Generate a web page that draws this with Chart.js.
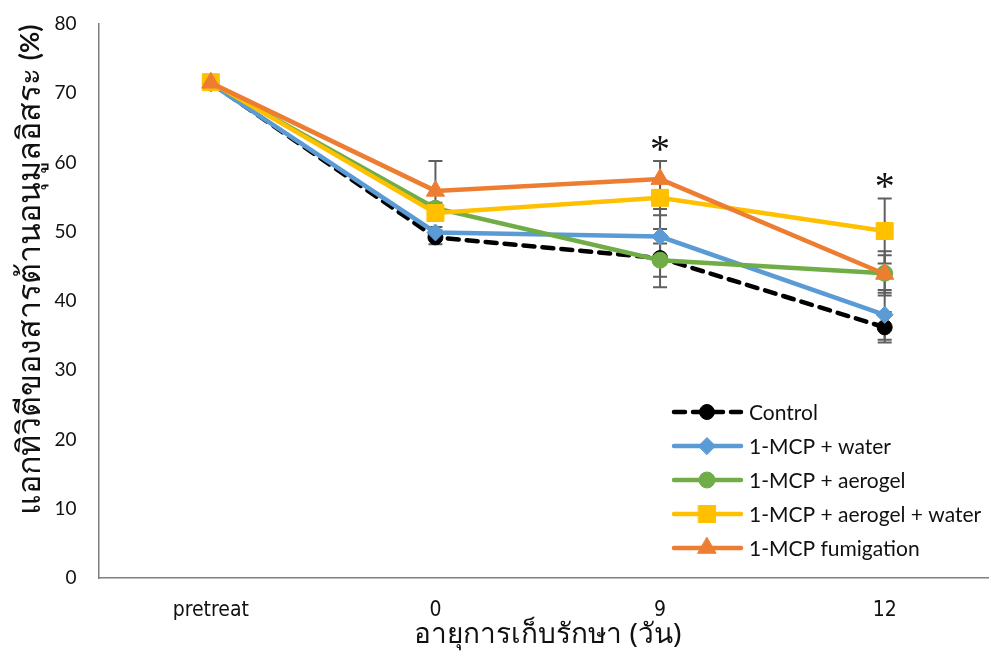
<!DOCTYPE html>
<html>
<head>
<meta charset="utf-8">
<script src="https://cdn.jsdelivr.net/npm/chart.js@4"></script>
<style>
  html, body { margin: 0; padding: 0; background: #fff; overflow: hidden; }
  #wrap { width: 1010px; height: 653px; }
</style>
</head>
<body>
<div id="wrap"><canvas id="antioxChart" width="1010" height="653"></canvas></div>
<script>
// ค่าเฉลี่ยและส่วนเบี่ยงเบนของแต่ละทรีตเมนต์
const categories = ["pretreat", "0", "9", "12"];
const controlMean = [71.5, 49.2, 46.2, 36.2];
const controlErr = [0.6, 1.0, 4.2, 2.2];
const waterMean = [71.4, 49.9, 49.3, 38.0];
const waterErr = [0.6, 0.8, 4.0, 3.6];
const aerogelMean = [71.5, 53.4, 45.9, 44.0];
const aerogelErr = [0.6, 0.8, 2.4, 3.2];
const aeroWaterMean = [71.6, 52.7, 54.9, 50.1];
const aeroWaterErr = [0.6, 0.8, 2.5, 4.7];
const fumigationMean = [71.5, 55.9, 57.6, 43.9];
const fumigationErr = [0.6, 4.3, 2.6, 2.7];
const significance = ["", "", "*", "*"];
const yTicks = [0, 10, 20, 30, 40, 50, 60, 70, 80];

const yTitle = "แอกทิวิตีของสารต้านอนุมูลอิสระ ";
const yUnit = "(%)";
const xTitle = "อายุการเก็บรักษา (วัน)";

const baseFont = "Lato, 'Open Sans', sans-serif";

// error bar ก่อนวาดเส้น
const errorBars = {
    id: "errorBars",
    beforeDatasetsDraw(chart) {
        const ctx = chart.ctx;
        const y = chart.scales.y;
        ctx.save();
        ctx.strokeStyle = "#5f5f5f";
        ctx.lineWidth = 2;
        chart.data.datasets.forEach((ds, i) => {
            const meta = chart.getDatasetMeta(i);
            meta.data.forEach((pt, j) => {
                const e = ds.errors[j];
                const top = y.getPixelForValue(ds.data[j] + e);
                const bot = y.getPixelForValue(ds.data[j] - e);
                ctx.beginPath();
                ctx.moveTo(pt.x, top); ctx.lineTo(pt.x, bot);
                ctx.moveTo(pt.x - 7, top); ctx.lineTo(pt.x + 7, top);
                ctx.moveTo(pt.x - 7, bot); ctx.lineTo(pt.x + 7, bot);
                ctx.stroke();
            });
        });
        ctx.restore();
    },
    afterDatasetsDraw(chart) {
        // เครื่องหมาย * แสดงความแตกต่างอย่างมีนัยสำคัญ
        const ctx = chart.ctx;
        const y = chart.scales.y;
        const x = chart.scales.x;
        ctx.save();
        ctx.fillStyle = "#111";
        ctx.font = "40px 'Liberation Serif', serif";
        ctx.textAlign = "center";
        ctx.textBaseline = "middle";
        significance.forEach((mark, j) => {
            if (!mark) return;
            let maxTop = 0;
            chart.data.datasets.forEach(ds => {
                maxTop = Math.max(maxTop, ds.data[j] + ds.errors[j]);
            });
            ctx.fillText(mark, x.getPixelForValue(j), y.getPixelForValue(maxTop) - 10);
        });
        ctx.restore();
    }
};

// legend มุมขวาล่างในพื้นที่กราฟ
const insideLegend = {
    id: "insideLegend",
    afterDraw(chart) {
        const ctx = chart.ctx;
        ctx.save();
        chart.data.datasets.forEach((ds, k) => {
            const cy = 412 + k * 34;
            ctx.strokeStyle = ds.borderColor;
            ctx.lineWidth = ds.borderWidth;
            ctx.lineCap = "round";
            ctx.setLineDash(ds.borderDash || []);
            ctx.beginPath();
            ctx.moveTo(674, cy); ctx.lineTo(741, cy);
            ctx.stroke();
            ctx.setLineDash([]);
            ctx.fillStyle = ds.pointBackgroundColor;
            ctx.strokeStyle = ds.pointBorderColor;
            ctx.lineWidth = 1;
            Chart.helpers.drawPoint(ctx, {
                pointStyle: ds.pointStyle,
                radius: ds.pointRadius,
                borderWidth: 1,
                rotation: 0
            }, 707, cy);
            ctx.fillStyle = "#111";
            ctx.font = "21px " + baseFont;
            ctx.textBaseline = "middle";
            ctx.fillText(ds.label, 749, cy + 1);
        });
        ctx.restore();
    }
};

// ชื่อแกน y แนวตั้ง (ตัวหนังสือไทย + หน่วยตัวหนา)
const yAxisTitle = {
    id: "yAxisTitle",
    afterDraw(chart) {
        const ctx = chart.ctx;
        ctx.save();
        ctx.translate(31, 270);
        ctx.rotate(-Math.PI / 2);
        ctx.fillStyle = "#111";
        ctx.textBaseline = "middle";
        const thaiFont = "32px 'Noto Sans', " + baseFont;
        const unitFont = "bold 26px " + baseFont;
        ctx.font = thaiFont;
        const w1 = ctx.measureText(yTitle).width;
        ctx.font = unitFont;
        const w2 = ctx.measureText(yUnit).width;
        const start = -(w1 + w2) / 2;
        ctx.font = thaiFont;
        ctx.fillText(yTitle, start, 0);
        ctx.font = unitFont;
        ctx.fillText(yUnit, start + w1, 0);
        ctx.restore();
    }
};

function series(label, data, errors, color, style, radius, order, extra) {
    return Object.assign({
        label: label,
        data: data,
        errors: errors,
        borderColor: color,
        backgroundColor: color,
        pointBackgroundColor: color,
        pointBorderColor: color,
        borderWidth: 4.5,
        pointStyle: style,
        pointRadius: radius,
        pointHoverRadius: radius,
        pointBorderWidth: 1,
        tension: 0,
        order: order
    }, extra || {});
}

// ขีด tick โปร่งใส ใช้เป็นระยะห่างระหว่างเส้นแกนกับตัวเลข
const hiddenTicks = {
    display: true,
    drawOnChartArea: false,
    drawTicks: true,
    tickColor: "rgba(0,0,0,0)"
};

const ctx = document.getElementById("antioxChart").getContext("2d");
new Chart(ctx, {
    type: "line",
    data: {
        labels: categories,
        datasets: [
            series("Control", controlMean, controlErr, "#000000", "circle", 7.5, 4,
                { borderDash: [11, 8], borderCapStyle: "round" }),
            series("1-MCP + water", waterMean, waterErr, "#5b9bd5", "rectRot", 8.5, 3),
            series("1-MCP + aerogel", aerogelMean, aerogelErr, "#70ad47", "circle", 8, 2),
            series("1-MCP + aerogel + water", aeroWaterMean, aeroWaterErr, "#ffc000", "rect", 12, 1),
            series("1-MCP fumigation", fumigationMean, fumigationErr, "#ed7d31", "triangle", 10.5, 0)
        ]
    },
    options: {
        responsive: false,
        animation: false,
        layout: { padding: { left: 0, right: 10, top: 24, bottom: 0 } },
        plugins: {
            legend: { display: false },
            tooltip: { enabled: false }
        },
        scales: {
            x: {
                offset: true,
                grid: Object.assign({ tickLength: 20 }, hiddenTicks),
                border: { display: true, color: "#7f7f7f", width: 1.5 },
                ticks: {
                    color: "#111",
                    padding: 0,
                    font: { family: "'DejaVu Sans Condensed', " + baseFont, size: 21 }
                },
                title: {
                    display: true,
                    text: xTitle,
                    color: "#111",
                    padding: { top: 0, bottom: 1 },
                    font: { family: "'Noto Sans', " + baseFont, size: 28 }
                },
                afterFit(scale) { scale.height = 75; }
            },
            y: {
                min: 0,
                max: 80,
                grid: Object.assign({ tickLength: 22 }, hiddenTicks),
                border: { display: true, color: "#7f7f7f", width: 1.5 },
                afterBuildTicks(scale) { scale.ticks = yTicks.map(v => ({ value: v })); },
                ticks: {
                    color: "#111",
                    padding: 0,
                    font: { family: baseFont, size: 19 }
                },
                afterFit(scale) { scale.width = 98.5; }
            }
        }
    },
    plugins: [errorBars, insideLegend, yAxisTitle]
});
</script>
</body>
</html>
